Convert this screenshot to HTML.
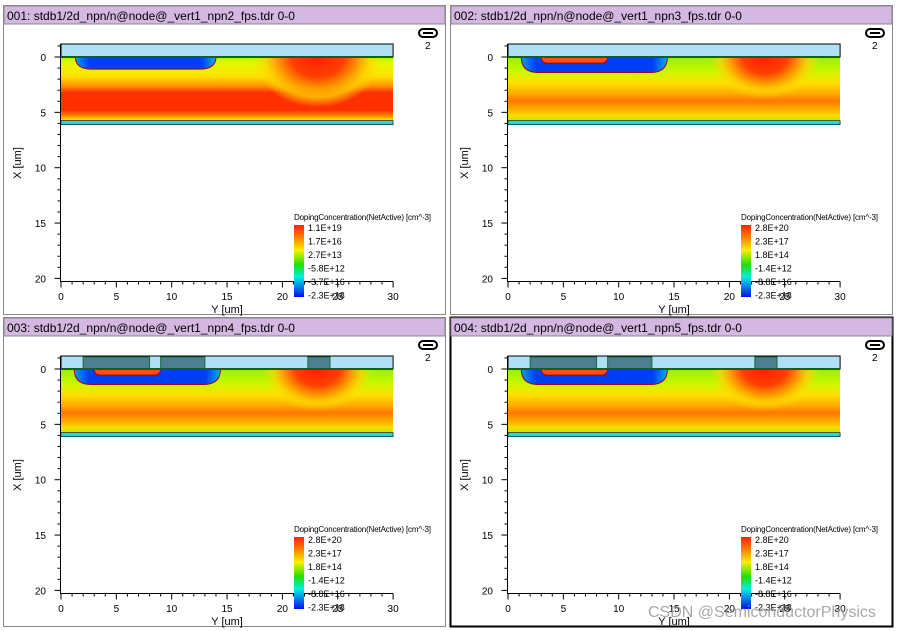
<!DOCTYPE html>
<html><head><meta charset="utf-8"><style>
html,body{margin:0;padding:0;background:#fff;width:899px;height:631px;overflow:hidden}
svg text{font-family:"Liberation Sans",sans-serif}
</style></head><body>
<svg id="s" width="899" height="631" xmlns="http://www.w3.org/2000/svg">
<defs>
<linearGradient id="g1" x1="0" y1="0" x2="0" y2="1">
<stop offset="0" stop-color="#b8f000"/><stop offset="0.12" stop-color="#e8f800"/><stop offset="0.3" stop-color="#ffe000"/><stop offset="0.45" stop-color="#ff9000"/><stop offset="0.55" stop-color="#ff3000"/><stop offset="0.82" stop-color="#ff3000"/><stop offset="0.9" stop-color="#ff8000"/><stop offset="0.96" stop-color="#ffd000"/><stop offset="1" stop-color="#e0f000"/>
</linearGradient>
<linearGradient id="g2" x1="0" y1="0" x2="0" y2="1">
<stop offset="0" stop-color="#98f000"/><stop offset="0.22" stop-color="#c8f800"/><stop offset="0.4" stop-color="#ffe000"/><stop offset="0.55" stop-color="#ffb000"/><stop offset="0.68" stop-color="#ff7800"/><stop offset="0.78" stop-color="#ffa000"/><stop offset="0.9" stop-color="#ffd800"/><stop offset="1" stop-color="#b0f000"/>
</linearGradient>
<radialGradient id="sink" cx="0.5" cy="0.5" r="0.5">
<stop offset="0" stop-color="#ff2000"/><stop offset="0.4" stop-color="#ff4000"/><stop offset="0.6" stop-color="#ff9000"/><stop offset="0.8" stop-color="#ffd000" stop-opacity="0.8"/><stop offset="1" stop-color="#ffe000" stop-opacity="0"/>
</radialGradient>
<linearGradient id="well" x1="0" y1="0" x2="1" y2="0">
<stop offset="0" stop-color="#00a0f0"/><stop offset="0.1" stop-color="#0040f0"/><stop offset="0.9" stop-color="#0040f0"/><stop offset="1" stop-color="#00b0f0"/>
</linearGradient>
<linearGradient id="cbar" x1="0" y1="0" x2="0" y2="1">
<stop offset="0" stop-color="#ff2000"/><stop offset="0.2" stop-color="#ff9000"/><stop offset="0.35" stop-color="#f8f000"/><stop offset="0.55" stop-color="#20e000"/><stop offset="0.72" stop-color="#00f0e0"/><stop offset="1" stop-color="#0010f0"/>
</linearGradient>
</defs>
</svg>
<script>
const titles=["001: stdb1/2d_npn/n@node@_vert1_npn2_fps.tdr 0-0","002: stdb1/2d_npn/n@node@_vert1_npn3_fps.tdr 0-0","003: stdb1/2d_npn/n@node@_vert1_npn4_fps.tdr 0-0","004: stdb1/2d_npn/n@node@_vert1_npn5_fps.tdr 0-0"];
const yTicks=[0,5,10,15,20,25,30];
const xTicks=[0,5,10,15,20];
const legend1=["1.1E+19","1.7E+16","2.7E+13","-5.8E+12","-3.7E+16","-2.3E+18"];
const legend2=["2.8E+20","2.3E+17","1.8E+14","-1.4E+12","-8.8E+16","-2.3E+18"];
const S=document.getElementById('s');
const NS="http://www.w3.org/2000/svg";
const defs=S.querySelector('defs');
function el(tag,attrs,parent,txt){const e=document.createElementNS(NS,tag);for(const k in attrs)e.setAttribute(k,attrs[k]);if(txt!==undefined)e.textContent=txt;(parent||S).appendChild(e);return e;}
function panel(i,px,py){
 const g=el('g',{});
 
 
 const sx=v=>px+61+v*11.07, sy=v=>py+57+v*11.07;
 const cp=el('clipPath',{id:'clip'+i},defs);
 el('rect',{x:sx(0),y:sy(0),width:sx(30)-sx(0),height:sy(5.85)-sy(0)},cp);
 const b=el('rect',{x:px+3.5,y:py+5.5,width:442,height:309,fill:'#fff',stroke:i==3?'#000':'#888','stroke-width':i==3?2:1},g);
 
 const tb=el('rect',{x:px+4,y:py+6,width:441,height:18,fill:'#d4b8e2',stroke:'#888'},g);
 
 const tt=el('text',{x:px+7,y:py+20,'font-size':12,fill:'#000'},g,titles[i]);
 
 const li=el('rect',{x:px+419,y:py+29,width:18,height:8,rx:4,fill:'#fff',stroke:'#000','stroke-width':2},g);
 
 el('line',{x1:px+423,y1:py+33,x2:px+433,y2:py+33,stroke:'#000','stroke-width':2},g);
 el('text',{x:px+425,y:py+49,'font-size':10},g,'2');
 const ox=el('rect',{x:sx(0),y:py+44,width:sx(30)-sx(0),height:13,fill:'#b0e0f8',stroke:'#000'},g);
 
 const late=i>0;
 const sg=el('g',{'clip-path':'url(#clip'+i+')'},g);
 
 const si=el('rect',{x:sx(0),y:sy(0),width:sx(30)-sx(0),height:sy(5.85)-sy(0),fill:late?'url(#g2)':'url(#g1)'},sg);
 
 const sk=el('ellipse',{cx:sx(23.2),cy:sy(0),rx:late?55:65,ry:late?42:50,fill:'url(#sink)'},sg);
 
 const wd=late?1.4:1.1, wx0=late?1.2:1.3, wx1=late?14.4:14;
 const w=el('path',{d:`M${sx(wx0)} ${sy(0)} L${sx(wx1)} ${sy(0)} Q${sx(wx1)} ${sy(wd)} ${sx(wx1-1.5)} ${sy(wd)} L${sx(wx0+1.5)} ${sy(wd)} Q${sx(wx0)} ${sy(wd)} ${sx(wx0)} ${sy(0)}Z`,fill:'url(#well)',stroke:'#a00020'},sg);
 
 if(late){const e=el('path',{d:`M${sx(3)} ${sy(0)} L${sx(9)} ${sy(0)} Q${sx(9)} ${sy(0.55)} ${sx(8.4)} ${sy(0.55)} L${sx(3.6)} ${sy(0.55)} Q${sx(3)} ${sy(0.55)} ${sx(3)} ${sy(0)}Z`,fill:'#ff5010',stroke:'#a00020'},sg);
  }
 if(i>=2){
  [[2,8],[9,13],[22.3,24.3]].forEach(c=>{const r=el('rect',{x:sx(c[0]),y:py+45,width:sx(c[1])-sx(c[0]),height:12,fill:'#4e7f90',stroke:'#1a6a3a'},g);
   });
 }
 el('line',{x1:sx(0),y1:sy(0),x2:sx(30),y2:sy(0),stroke:'#106020','stroke-width':2},g);
 el('rect',{x:sx(0),y:sy(5.75),width:sx(30)-sx(0),height:4,fill:'#20d8e0',stroke:'#000','stroke-width':0.6},g);
 const ax=el('path',{d:`M${px+60.5} ${py+44} V${py+281.5} H${sx(30)}`,fill:'none',stroke:'#000'},g);
 
 for(let v=-1;v<=20;v++){const L=v%5==0?6:3;el('line',{x1:px+60.5-L,y1:sy(v),x2:px+60.5,y2:sy(v),stroke:'#000'},g);}
 for(let v=0;v<=30;v++){const L=v%5==0?6:3;el('line',{x1:sx(v),y1:py+281.5,x2:sx(v),y2:py+281.5+L,stroke:'#000'},g);}
 xTicks.forEach(v=>{const t=el('text',{x:px+46,y:sy(v)+4,'font-size':10,'text-anchor':'end'},g,String(v));});
 yTicks.forEach(v=>{const t=el('text',{x:sx(v),y:py+300,'font-size':10,'text-anchor':'middle'},g,String(v));});
 const yt=el('text',{x:sx(15),y:py+313,'font-size':11,'text-anchor':'middle'},g,'Y [um]');
 const xt=el('text',{x:0,y:0,'font-size':11,'text-anchor':'middle',transform:`translate(${px+21},${py+163}) rotate(-90)`},g,'X [um]');
 const lg=el('g',{},g);
 el('text',{x:px+294,y:py+220,'font-size':8,textLength:137},lg,'DopingConcentration(NetActive) [cm^-3]');
 el('rect',{x:px+294,y:py+225,width:10,height:72,fill:'url(#cbar)'},lg);
 const labs=i==0?legend1:legend2;
 labs.forEach((l,k)=>el('text',{x:px+308,y:py+231+k*13.5,'font-size':9},lg,l));
}
panel(0,0,0);panel(1,447,0);panel(2,0,312);panel(3,447,312);
const wm=el('text',{x:648,y:617,'font-size':16,fill:'#999','fill-opacity':0.85},S,'CSDN @SemiconductorPhysics');


</script>
</body></html>
